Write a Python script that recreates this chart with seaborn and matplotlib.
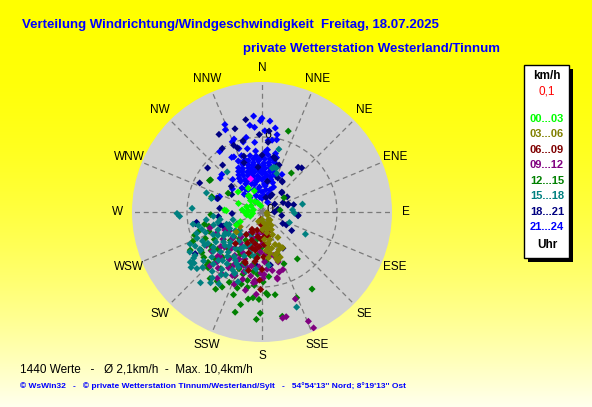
import numpy as np
import pandas as pd
import seaborn as sns
import matplotlib.pyplot as plt
from matplotlib.patches import Rectangle

# ======| Data (direction in degrees, speed in km/h) |======

dir_00_03 = [322, 315, 326, 284, 273, 276, 270, 272, 243, 246, 289, 262, 335, 300, 350, 250, 330, 340, 290, 259, 275, 320, 310]
spd_00_03 = [1.6, 1.3, 1.0, 0.7, 3.0, 1.6, 1.4, 2.85, 2.3, 1.9, 1.3, 0.75, 0.8, 1.0, 0.5, 1.0, 2.2, 1.8, 2.0, 1.25, 1.1, 1.7, 2.5]

dir_03_06 = [163, 169, 160, 163, 164, 167, 169, 150, 140, 155, 158, 165, 172, 175, 178, 180, 170, 160, 152, 148,
             156, 162, 232, 236, 200, 135, 120, 100, 145, 170, 158, 153, 166, 174, 150]
spd_03_06 = [3.9, 3.35, 3.5, 3.6, 2.3, 1.7, 2.55, 1.0, 0.8, 2.0, 2.8, 3.0, 3.7, 2.2, 1.4, 0.6, 0.9, 1.4, 1.6, 2.4,
             3.3, 4.1, 2.6, 2.1, 0.8, 0.9, 0.5, 0.4, 1.3, 2.9, 3.9, 3.0, 1.2, 3.1, 3.3]

dir_06_09 = [185, 180, 175, 190, 195, 170, 185, 200, 205, 198, 190, 178, 172, 165, 168, 210, 198, 199, 181, 182,
             188, 192, 176, 182, 195, 186, 160, 175, 205, 215, 180, 193, 220, 188]
spd_06_09 = [1.0, 1.5, 2.0, 2.0, 1.5, 2.6, 2.8, 2.4, 2.75, 3.45, 3.1, 3.6, 3.2, 2.0, 1.2, 1.6, 4.3, 4.2, 6.2, 5.45,
             4.0, 2.6, 2.6, 2.2, 3.0, 3.7, 1.6, 1.0, 1.8, 2.2, 4.6, 4.8, 3.3, 0.6]

dir_09_12 = [230, 225, 220, 218, 215, 213, 210, 208, 205, 203, 200, 198, 195, 192, 190, 188, 187, 185, 183, 180,
             178, 176, 175, 172, 170, 167, 167, 165, 162, 160, 159, 157, 156, 169, 167, 179, 186, 253, 240, 235,
             245, 200, 210, 190, 220, 228, 197, 182, 174, 205, 215, 212, 223, 193,
             232, 227, 222, 217, 211, 206, 201, 196, 191, 184, 177, 171, 164, 239, 244, 199, 189, 214, 224, 181]
spd_09_12 = [4.3, 5.0, 3.8, 5.7, 4.6, 5.9, 3.2, 4.8, 5.6, 5.5, 4.0, 3.0, 4.6, 6.4, 5.2, 3.6, 5.7, 5.6, 4.4, 2.6,
             5.0, 3.4, 4.6, 2.8, 4.75, 5.5, 5.4, 3.6, 4.2, 4.9, 7.45, 9.5, 10.15, 8.65, 8.6, 5.3, 5.5, 4.35, 3.0, 3.8,
             4.0, 2.2, 2.0, 1.8, 2.6, 3.2, 5.0, 3.2, 1.8, 3.6, 3.0, 4.1, 4.9, 2.6,
             5.1, 4.1, 5.4, 3.6, 5.2, 4.2, 6.2, 5.6, 4.4, 6.6, 4.0, 3.6, 5.0, 5.2, 3.3, 4.5, 3.0, 6.4, 6.0, 4.9]

dir_12_15 = [250, 245, 240, 238, 247, 251, 235, 230, 225, 222, 218, 213, 210, 205, 203, 200, 197, 195, 192, 191,
             189, 188, 185, 182, 181, 183, 195, 177, 176, 171, 169, 158, 147, 143, 157, 160, 175, 180, 190, 200,
             210, 220, 228, 215, 207, 198, 193, 18, 37, 57, 302, 301, 287, 267, 84, 233, 243, 255, 236, 227,
             299, 286, 186, 212,
             242, 236, 232, 226, 221, 216, 208, 202, 196, 190, 186, 179, 174, 184, 199, 211, 224, 229, 253, 258]
spd_12_15 = [4.5, 5.0, 4.4, 5.75, 6.0, 5.7, 3.8, 4.6, 5.3, 4.0, 6.75, 6.6, 5.0, 6.2, 5.55, 4.4, 5.2, 3.6, 5.6, 6.15,
             7.05, 4.8, 3.4, 7.0, 8.1, 8.6, 8.3, 6.5, 6.65, 6.7, 8.5, 7.4, 7.35, 4.7, 4.5, 3.6, 4.0, 2.8, 2.2, 3.0,
             2.6, 2.8, 3.4, 4.5, 3.8, 6.4, 7.6, 6.8, 3.9, 2.1, 4.85, 4.9, 4.2, 4.1, 1.45, 5.1, 3.2, 4.4, 5.8, 5.9,
             3.1, 4.15, 5.9, 3.6,
             6.5, 4.9, 5.9, 6.1, 4.8, 5.6, 6.8, 4.9, 6.0, 4.3, 6.9, 5.6, 5.2, 5.0, 7.0, 7.2, 6.2, 3.0, 5.3, 4.7]

dir_15_18 = [262, 258, 255, 250, 248, 245, 243, 240, 238, 236, 235, 233, 232, 230, 228, 226, 224, 222, 220, 218,
             216, 214, 212, 210, 208, 206, 204, 202, 200, 198, 196, 194, 230, 240, 250, 225, 215, 205, 235, 245,
             255, 260, 242, 228, 234, 218, 210, 203, 190, 186, 269, 267, 273, 289, 285, 319, 15, 21, 15, 18,
             79, 92, 117, 111, 173, 160, 221, 216, 215, 204, 257, 251, 239, 240, 86, 13, 237, 234,
             265, 260, 252, 246, 241, 237, 231, 227, 223, 219, 213, 209, 205, 199, 195, 244, 238, 232, 226, 220,
             248, 254, 229, 217, 211, 207, 249, 243, 237, 231]
spd_15_18 = [4.5, 5.2, 4.0, 4.8, 5.6, 4.3, 6.0, 5.0, 5.8, 6.6, 7.0, 6.8, 7.2, 6.1, 5.4, 4.6, 3.8, 5.2, 6.2, 4.5,
             3.6, 5.0, 4.2, 5.8, 3.2, 4.6, 5.4, 3.8, 2.8, 4.4, 3.4, 2.5, 3.0, 3.4, 3.0, 2.5, 2.2, 2.0, 2.6, 2.2,
             2.4, 3.4, 4.0, 4.0, 4.8, 3.0, 3.4, 4.8, 3.6, 4.6, 6.8, 6.6, 5.6, 4.7, 4.2, 4.25, 5.2, 3.3, 3.7, 3.7,
             3.3, 2.6, 3.9, 2.35, 4.3, 8.1, 7.5, 7.0, 5.6, 5.35, 3.6, 3.0, 5.8, 5.3, 2.45, 3.6, 6.4, 6.9,
             3.9, 5.6, 5.5, 6.3, 6.6, 4.4, 5.0, 6.5, 5.7, 5.0, 6.0, 4.4, 3.0, 5.9, 4.9, 5.3, 3.6, 3.9, 3.5, 4.2,
             3.8, 5.0, 6.9, 6.6, 6.7, 5.2, 2.8, 2.9, 3.2, 2.3]

dir_18_21 = [342, 331, 309, 295, 5, 12, 33, 42, 45, 337, 345, 320, 96, 119, 122, 261, 275, 250, 90, 100,
             46, 75, 77, 95, 118, 150, 171, 58, 59, 66, 73, 264, 253, 260, 238, 267, 202, 186, 350, 358,
             5, 328, 340, 25, 20, 355, 10, 30, 15, 310, 300, 287, 342, 0, 14, 18, 39, 34, 339, 28, 80]
spd_18_21 = [7.0, 7.1, 5.6, 5.5, 5.6, 4.5, 2.95, 4.75, 2.25, 5.8, 5.9, 4.9, 2.9, 1.9, 2.8, 5.3, 3.4, 3.3, 1.0, 1.6,
             2.2, 2.15, 2.6, 2.9, 2.2, 3.35, 4.3, 1.2, 2.35, 1.85, 2.2, 3.5, 3.5, 5.4, 6.3, 2.4, 4.7, 4.3, 7.5, 6.2,
             6.5, 6.0, 4.2, 3.0, 4.0, 3.6, 2.5, 1.6, 1.2, 3.2, 2.8, 3.7, 4.7, 4.55, 4.4, 3.9, 4.6, 2.9, 5.5, 1.4, 1.3]

dir_21_24 = [335, 342, 348, 354, 0, 6, 12,
             332, 338, 344, 350, 356, 2, 8, 14,
             328, 334, 340, 346, 352, 358, 4, 10, 16,
             325, 332, 339, 346, 353, 0, 7, 14, 21,
             320, 330, 340, 350, 0, 10, 20,
             315, 328, 341, 354, 7, 20,
             320, 340, 0, 20,
             330, 0, 30,
             338, 345, 351, 357, 3, 9, 15, 330, 336, 343, 349, 356, 2, 9, 16,
             326, 333, 343, 349, 356, 3, 11, 18, 335, 345, 355, 5, 15, 325, 345, 5, 350, 10, 340,
             355, 0, 359, 5, 337, 355, 9, 11, 348, 339, 8, 354, 325, 331, 340, 354, 5, 347, 13, 313,
             287, 290, 336, 5, 11.5, 337, 333, 309, 287, 3, 12, 352, 2, 345, 318, 308, 25, 28, 352, 8]
spd_21_24 = [4.5, 4.4, 4.6, 4.5, 4.4, 4.6, 4.3,
             4.0, 4.1, 3.9, 4.0, 4.1, 3.9, 4.0, 4.1,
             3.5, 3.6, 3.4, 3.5, 3.6, 3.4, 3.5, 3.6, 3.4,
             3.0, 2.9, 3.1, 3.0, 2.9, 3.1, 3.0, 2.9, 3.1,
             2.5, 2.6, 2.4, 2.5, 2.6, 2.4, 2.5,
             2.0, 2.1, 1.9, 2.0, 2.1, 1.9,
             1.5, 1.4, 1.6, 1.5,
             1.0, 1.1, 0.9,
             4.25, 4.25, 4.3, 4.2, 4.25, 4.3, 4.5, 3.75, 3.8, 3.7, 3.8, 3.75, 3.7, 3.8, 3.7,
             3.25, 3.3, 3.2, 3.25, 3.3, 3.2, 3.3, 3.2, 2.75, 2.8, 2.75, 2.8, 2.7, 2.25, 2.3, 2.25, 1.75, 1.8, 4.8,
             7.7, 7.5, 7.3, 7.3, 7.6, 6.8, 6.8, 6.3, 6.1, 6.25, 5.8, 5.6, 5.9, 5.0, 5.4, 4.9, 5.0, 5.2, 4.8, 4.4,
             3.7, 3.6, 7.2, 5.75, 5.9, 6.1, 4.95, 4.3, 3.8, 4.8, 4.4, 7.0, 6.5, 5.8, 3.5, 3.0, 2.2, 3.4, 1.2, 1.3]

dir_mark = [341]
spd_mark = [2.8]

# drawing order of the hour groups (bottom to top)
groups = ["21...24", "18...21", "12...15", "09...12", "15...18", "06...09", "03...06", "00...03", "mark"]
group_dirs = [dir_21_24, dir_18_21, dir_12_15, dir_09_12, dir_15_18, dir_06_09, dir_03_06, dir_00_03, dir_mark]
group_spds = [spd_21_24, spd_18_21, spd_12_15, spd_09_12, spd_15_18, spd_06_09, spd_03_06, spd_00_03, spd_mark]

legend_labels = ["00...03", "03...06", "06...09", "09...12", "12...15", "15...18", "18...21", "21...24"]
legend_colors = ["#00FF00", "#808000", "#800000", "#800080", "#008000", "#008080", "#000080", "#0000FF"]

directions = ["N", "NNE", "NE", "ENE", "E", "ESE", "SE", "SSE",
              "S", "SSW", "SW", "WSW", "W", "WNW", "NW", "NNW"]

r_max = 10.4

# ======| Figure |======

plt.rcParams["font.family"] = ["Liberation Sans", "DejaVu Sans"]

W, H = 592, 407
fig = plt.figure(figsize=(W / 100, H / 100), dpi=100)


def fx(px):
    return px / W


def fy(py):
    return 1 - py / H


# yellow gradient background
bg = fig.add_axes([0, 0, 1, 1], zorder=-10)
fade = np.linspace(0, 1, 256) ** 2
grad = np.ones((256, 1, 3))
grad[:, 0, 2] = 0.93 * fade
bg.imshow(grad, aspect="auto", extent=[0, 1, 0, 1])
bg.axis("off")

ax = fig.add_axes([fx(132), fy(342), 260 / W, 260 / H], projection="polar")
ax.set_theta_zero_location("N")
ax.set_theta_direction(-1)
ax.set_facecolor("#D2D2D2")

tabela = pd.concat(
    [pd.DataFrame({"dir": d, "speed": s, "group": g}) for g, d, s in zip(groups, group_dirs, group_spds)],
    ignore_index=True,
)
tabela["rad"] = np.deg2rad(tabela["dir"])

palette = dict(zip(legend_labels, legend_colors))
palette["mark"] = "#FF00FF"

sns.scatterplot(
    data=tabela, x="rad", y="speed", hue="group", palette=palette,
    marker="D", s=13, linewidth=0, legend=False, ax=ax, zorder=3,
)

ax.set_ylim(0, r_max)
ax.set_xlabel("")
ax.set_ylabel("")
ax.set_xticks(np.deg2rad(np.arange(0, 360, 22.5)))
ax.set_xticklabels([])
ax.set_yticks([6])
ax.set_yticklabels([])
ax.grid(True, color="#7A7A7A", linestyle=(0, (4, 3)), linewidth=0.9)
ax.spines["polar"].set_visible(False)

for i, name in enumerate(directions):
    ax.text(np.deg2rad(i * 22.5), r_max * 1.108, name, ha="center", va="center",
            fontsize=8.5, clip_on=False)

ax.text(np.deg2rad(4.5), 6.15, "6", ha="center", va="center", fontsize=9, zorder=2)
ax.text(np.deg2rad(75), 0.64, "0", ha="center", va="center", fontsize=9, zorder=2)

# ======| Titles |======

fig.text(fx(22), fy(25), "Verteilung Windrichtung/Windgeschwindigkeit  Freitag, 18.07.2025",
         color="#0000FF", fontweight="bold", fontsize=9.5, va="center")
fig.text(fx(243), fy(49), "private Wetterstation Westerland/Tinnum",
         color="#0000FF", fontweight="bold", fontsize=9.5, va="center")

fig.text(fx(20), fy(369), "1440 Werte   -   Ø 2,1km/h  -  Max. 10,4km/h",
         color="black", fontsize=8.5, va="center")
fig.text(fx(20), fy(386),
         "© WsWin32   -   © private Wetterstation Tinnum/Westerland/Sylt   -   54°54'13'' Nord; 8°19'13'' Ost",
         color="#0000FF", fontweight="bold", fontsize=6, va="center")

# ======| Legend box |======

fig.patches.append(Rectangle((fx(528), fy(262)), 45 / W, 193 / H, transform=fig.transFigure,
                             facecolor="black", edgecolor="none", zorder=1))
fig.patches.append(Rectangle((fx(524), fy(258)), 45 / W, 193 / H, transform=fig.transFigure,
                             facecolor="white", edgecolor="black", linewidth=1, zorder=2))

fig.text(fx(547), fy(76), "km/h", ha="center", va="center", fontsize=8.5, fontweight="bold", zorder=3)
fig.text(fx(547), fy(91), "0,1", ha="center", va="center", fontsize=8.5, color="#FF0000", zorder=3)
y_legenda = [119, 134, 150, 165, 181, 196, 212, 227]
for lab, cor, yy in zip(legend_labels, legend_colors, y_legenda):
    fig.text(fx(547), fy(yy), lab, ha="center", va="center", fontsize=8, fontweight="bold",
             color=cor, zorder=3)
fig.text(fx(547), fy(245), "Uhr", ha="center", va="center", fontsize=8.5, fontweight="bold", zorder=3)

fig.savefig("out.png", dpi=100)
